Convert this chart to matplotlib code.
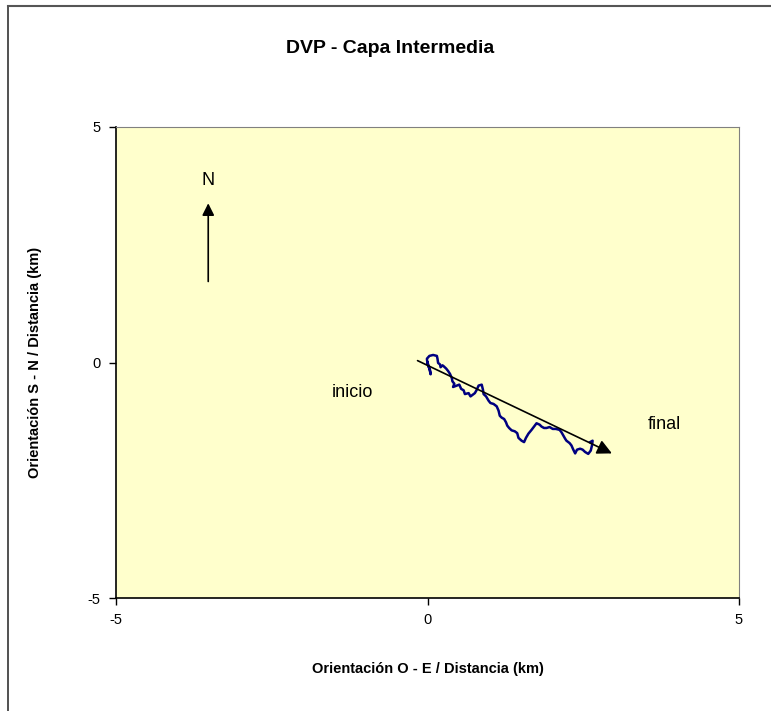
import numpy as np
import matplotlib.pyplot as plt
from matplotlib.lines import Line2D

plt.rcParams['font.family'] = ['Liberation Sans', 'DejaVu Sans']
plt.rcParams['axes.unicode_minus'] = False

# Trayectoria DVP (km)
x_km = [0.00, 0.03, 0.05, 0.04, 0.00, -0.01, 0.03, 0.09, 0.15, 0.16, 0.17,
        0.20, 0.21, 0.24, 0.26, 0.30, 0.33, 0.36, 0.39, 0.40, 0.43, 0.41,
        0.47, 0.51, 0.54, 0.58, 0.60, 0.66, 0.69, 0.73, 0.76, 0.79, 0.82,
        0.87, 0.89, 0.90, 0.94, 0.98, 1.01, 1.06, 1.11, 1.14, 1.16, 1.19,
        1.23, 1.26, 1.28, 1.31, 1.35, 1.40, 1.44, 1.46, 1.51, 1.55, 1.58,
        1.62, 1.67, 1.71, 1.75, 1.80, 1.83, 1.87, 1.91, 1.96, 2.01, 2.06,
        2.12, 2.15, 2.18, 2.21, 2.23, 2.28, 2.31, 2.34, 2.37, 2.40, 2.45,
        2.49, 2.53, 2.58, 2.62, 2.64, 2.65, 2.61]
y_km = [0.00, -0.13, -0.25, -0.16, -0.03, 0.08, 0.14, 0.16, 0.14, 0.08, -0.01,
        -0.04, -0.10, -0.06, -0.08, -0.13, -0.18, -0.24, -0.33, -0.40, -0.45,
        -0.52, -0.49, -0.47, -0.56, -0.59, -0.67, -0.65, -0.72, -0.68, -0.65,
        -0.58, -0.49, -0.47, -0.58, -0.67, -0.72, -0.81, -0.86, -0.88, -0.93,
        -1.02, -1.13, -1.17, -1.20, -1.27, -1.34, -1.39, -1.44, -1.46, -1.50,
        -1.60, -1.66, -1.69, -1.60, -1.51, -1.43, -1.36, -1.29, -1.32, -1.36,
        -1.39, -1.39, -1.37, -1.41, -1.41, -1.43, -1.48, -1.55, -1.62, -1.66,
        -1.71, -1.76, -1.85, -1.93, -1.85, -1.83, -1.85, -1.90, -1.94, -1.87,
        -1.76, -1.66, -1.69]

# Flecha de tendencia y flecha del norte
tendencia_ini = (-0.16, 0.04)
tendencia_fin = (2.96, -1.93)
norte_ini = (-3.52, 1.72)
norte_fin = (-3.52, 3.38)

fig = plt.figure(figsize=(7.71, 7.11), dpi=100)
ax = fig.add_axes([0.1505, 0.1589, 0.808, 0.6625])
ax.set_facecolor('#FFFFCC')

ax.plot(x_km, y_km, color='#000080', lw=1.8, solid_joinstyle='round')

ax.annotate('', xy=tendencia_fin, xytext=tendencia_ini,
            arrowprops=dict(arrowstyle='-|>', color='black', lw=1.2,
                            mutation_scale=22, shrinkA=0, shrinkB=0))
ax.annotate('', xy=norte_fin, xytext=norte_ini,
            arrowprops=dict(arrowstyle='-|>', color='black', lw=1.2,
                            mutation_scale=18, shrinkA=0, shrinkB=0))

ax.text(-3.52, 3.86, 'N', ha='center', va='center', fontsize=13)
ax.text(-1.20, -0.64, 'inicio', ha='center', va='center', fontsize=13)
ax.text(3.80, -1.32, 'final', ha='center', va='center', fontsize=13)

ax.set_xlim(-5, 5)
ax.set_ylim(-5, 5)
ax.set_xticks([-5, 0, 5])
ax.set_yticks([-5, 0, 5])
ax.tick_params(direction='out', length=5, width=1, labelsize=10.5, pad=6)
for s in ['top', 'right']:
    ax.spines[s].set_color('#808080')
for s in ['left', 'bottom']:
    ax.spines[s].set_color('black')
    ax.spines[s].set_linewidth(1.2)

ax.set_xlabel('Orientación O - E / Distancia (km)', fontsize=10.5,
              fontweight='bold', labelpad=25)
ax.set_ylabel('Orientación S - N / Distancia (km)', fontsize=10.5,
              fontweight='bold', labelpad=33)

fig.text(0.506, 0.932, 'DVP - Capa Intermedia', ha='center', va='center',
         fontsize=14, fontweight='bold')

# Borde del área del gráfico
fig.add_artist(Line2D([0.011, 0.011], [0.0, 0.991], color='#333333', lw=1.2))
fig.add_artist(Line2D([0.011, 1.0], [0.991, 0.991], color='#555555', lw=1.5))

fig.savefig('out.png', dpi=100)
